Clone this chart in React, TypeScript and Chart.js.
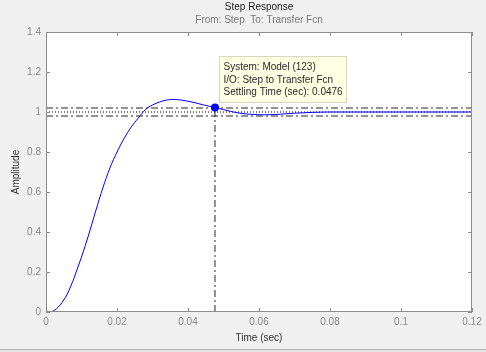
import React, { useEffect, useRef } from 'react';
import { Chart, registerables } from 'chart.js';

Chart.register(...registerables);

// ---- data ----
const timeValues = [
  0, 0.001, 0.002, 0.003, 0.004, 0.005, 0.006, 0.007, 0.008, 0.009, 0.01,
  0.012, 0.014, 0.016, 0.018, 0.02, 0.022, 0.024, 0.026, 0.028, 0.03,
  0.032, 0.034, 0.036, 0.038, 0.04, 0.042, 0.044, 0.046, 0.0476,
  0.05, 0.052, 0.055, 0.058, 0.062, 0.066, 0.07, 0.075, 0.08, 0.1, 0.12,
];
const amplitudeValues = [
  0, 0, 0.005, 0.017, 0.035, 0.06, 0.09, 0.13, 0.175, 0.225, 0.275,
  0.385, 0.505, 0.62, 0.72, 0.8, 0.868, 0.925, 0.97, 1.012, 1.035,
  1.05, 1.06, 1.063, 1.06, 1.054, 1.046, 1.037, 1.029, 1.022,
  1.012, 1.003, 0.993, 0.988, 0.986, 0.989, 0.994, 0.998, 1.0, 1.0, 1.0,
];
const finalValue = 1;
const bandUpper = 1.02;
const bandLower = 0.98;
const settlingTime = 0.0476;
const settlingAmplitude = 1.022;
const tipLines = ['System: Model (123)', 'I/O: Step to Transfer Fcn', 'Settling Time (sec): 0.0476'];
const titleText = 'Step Response';
const subtitleText = 'From: Step  To: Transfer Fcn';
const xLabel = 'Time (sec)';
const yLabel = 'Amplitude';
const xMin = 0, xMax = 0.12, xStep = 0.02;
const yMin = 0, yMax = 1.4, yStep = 0.2;

const FONT = "'Liberation Sans', Arial, sans-serif";
const fmt = (v: any) => String(parseFloat(Number(v).toFixed(4)));

const matlabPlugin = {
  id: 'matlabFrame',
  beforeDraw(chart: any) {
    const { ctx, chartArea: a, width, height } = chart;
    ctx.save();
    ctx.fillStyle = '#f0f0f0';
    ctx.fillRect(0, 0, width, height);
    ctx.fillStyle = '#ffffff';
    ctx.fillRect(a.left, a.top, a.right - a.left, a.bottom - a.top);
    ctx.fillStyle = '#e6e6e6';
    ctx.fillRect(0, height - 2, width, 2);
    ctx.fillStyle = '#b0b0b0';
    ctx.fillRect(0, height - 3, width, 1);
    ctx.restore();
  },
  afterDatasetsDraw(chart: any) {
    const { ctx, chartArea: a, scales } = chart;
    ctx.save();
    ctx.strokeStyle = '#8c8c8c';
    ctx.lineWidth = 1;
    ctx.strokeRect(a.left + 0.5, a.top + 0.5, a.right - a.left - 1, a.bottom - a.top - 1);
    const tl = 4;
    ctx.beginPath();
    scales.x.ticks.forEach((t: any) => {
      const x = Math.round(scales.x.getPixelForValue(t.value)) + 0.5;
      ctx.moveTo(x, a.bottom);
      ctx.lineTo(x, a.bottom - tl);
      ctx.moveTo(x, a.top);
      ctx.lineTo(x, a.top + tl);
    });
    scales.y.ticks.forEach((t: any) => {
      const y = Math.round(scales.y.getPixelForValue(t.value)) + 0.5;
      ctx.moveTo(a.left, y);
      ctx.lineTo(a.left + tl, y);
      ctx.moveTo(a.right, y);
      ctx.lineTo(a.right - tl, y);
    });
    ctx.stroke();
    ctx.restore();
  },
  afterDraw(chart: any) {
    const { ctx, scales } = chart;
    const px = scales.x.getPixelForValue(settlingTime);
    const py = scales.y.getPixelForValue(settlingAmplitude);
    ctx.save();
    ctx.font = `10px ${FONT}`;
    const w = Math.max(...tipLines.map((l) => ctx.measureText(l).width));
    const bx = Math.round(px + 4) + 0.5;
    const bh = 46;
    const by = Math.round(py - 6 - bh) + 0.5;
    const bw = Math.round(w + 8);
    ctx.fillStyle = '#ffffe4';
    ctx.strokeStyle = '#d8d8c0';
    ctx.lineWidth = 1;
    ctx.fillRect(bx, by, bw, bh);
    ctx.strokeRect(bx, by, bw, bh);
    ctx.fillStyle = '#2a2a2a';
    ctx.textBaseline = 'middle';
    ctx.textAlign = 'left';
    tipLines.forEach((l, i) => ctx.fillText(l, bx + 4, by + 11 + i * 12.5));
    ctx.restore();
  },
};

export default function App() {
  const ref = useRef<HTMLCanvasElement | null>(null);
  useEffect(() => {
    if (!ref.current) return;
    const curve = timeValues.map((t, i) => ({ x: t, y: amplitudeValues[i] }));
    const dashDot = [7, 3, 2, 3];
    const chart = new Chart(ref.current, {
      type: 'line',
      data: {
        datasets: [
          {
            data: [{ x: settlingTime, y: settlingAmplitude }],
            showLine: false,
            pointRadius: 4,
            pointBackgroundColor: '#0000ff',
            pointBorderColor: '#0000ff',
            pointBorderWidth: 0,
          },
          {
            data: curve,
            borderColor: '#0000ff',
            borderWidth: 1,
            pointRadius: 0,
            cubicInterpolationMode: 'monotone',
          },
          {
            data: [{ x: xMin, y: finalValue }, { x: xMax, y: finalValue }],
            borderColor: '#000000',
            borderWidth: 1,
            borderDash: [1, 2],
            pointRadius: 0,
          },
          {
            data: [{ x: xMin, y: bandUpper }, { x: xMax, y: bandUpper }],
            borderColor: '#262626',
            borderWidth: 1,
            borderDash: dashDot,
            pointRadius: 0,
          },
          {
            data: [{ x: xMin, y: bandLower }, { x: xMax, y: bandLower }],
            borderColor: '#262626',
            borderWidth: 1,
            borderDash: dashDot,
            pointRadius: 0,
          },
          {
            data: [{ x: settlingTime, y: yMin }, { x: settlingTime, y: settlingAmplitude }],
            borderColor: '#262626',
            borderWidth: 1,
            borderDash: dashDot,
            pointRadius: 0,
          },
        ],
      },
      options: {
        responsive: false,
        animation: false,
        devicePixelRatio: 1,
        layout: { padding: { left: 0, right: 14, top: 0, bottom: 0 } },
        plugins: {
          legend: { display: false },
          tooltip: { enabled: false },
          title: {
            display: true,
            text: titleText,
            fullSize: false,
            color: '#222222',
            font: { family: FONT, size: 10, weight: 'normal', lineHeight: '12px' },
            padding: { top: 1, bottom: 1 },
          },
          subtitle: {
            display: true,
            text: subtitleText,
            fullSize: false,
            color: '#7a7a7a',
            font: { family: FONT, size: 10, weight: 'normal', lineHeight: '12px' },
            padding: { top: 0, bottom: 6 },
          },
        },
        scales: {
          x: {
            type: 'linear',
            min: xMin,
            max: xMax,
            grid: { display: false, drawTicks: false },
            border: { display: false },
            ticks: {
              stepSize: xStep,
              color: '#8a8a8a',
              font: { family: FONT, size: 10, lineHeight: '12px' },
              padding: 4,
              maxRotation: 0,
              autoSkip: false,
              callback: fmt,
            },
            title: {
              display: true,
              text: xLabel,
              color: '#333333',
              font: { family: FONT, size: 10, lineHeight: '12px' },
              padding: { top: 0, bottom: 8 },
            },
            afterFit(scale: any) {
              scale.height = 40;
            },
          },
          y: {
            type: 'linear',
            min: yMin,
            max: yMax,
            grid: { display: false, drawTicks: false },
            border: { display: false },
            ticks: {
              stepSize: yStep,
              color: '#8a8a8a',
              font: { family: FONT, size: 10, lineHeight: '12px' },
              padding: 5,
              autoSkip: false,
              callback: fmt,
            },
            title: {
              display: true,
              text: yLabel,
              color: '#333333',
              font: { family: FONT, size: 10, lineHeight: '12px' },
              padding: { top: 10, bottom: 0 },
            },
            afterFit(scale: any) {
              scale.width = 46;
            },
          },
        },
      } as any,
      plugins: [matlabPlugin],
    });
    return () => chart.destroy();
  }, []);
  return (
    <div style={{ position: 'fixed', left: 0, top: 0, width: 486, height: 352 }}>
      <canvas ref={ref} width={486} height={352} style={{ display: 'block' }} />
    </div>
  );
}
